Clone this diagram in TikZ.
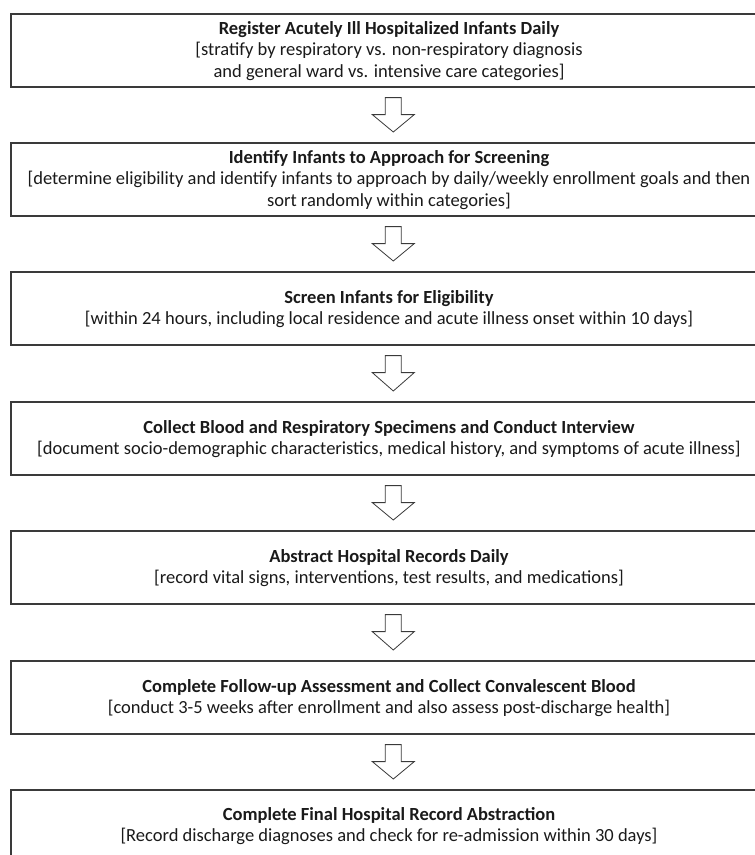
\documentclass[tikz,border=0pt]{standalone}
\usepackage{fontspec}
\setmainfont{Carlito}
\usetikzlibrary{calc}
\definecolor{linegray}{HTML}{3A3A3A}
\definecolor{textgray}{HTML}{1A1A1A}
\tikzset{
  stagebox/.style={draw=linegray, line width=1.6pt, fill=white, rectangle,
    minimum width=765pt, minimum height=73pt, inner sep=0pt, anchor=north west},
  stagetext/.style={align=center, inner sep=0pt, text=textgray,
    font=\fontsize{18.5}{21.5}\selectfont},
  flowshape/.style={draw=linegray, line width=0.8pt, fill=white, line join=miter}
}
\newcommand\flowarrow[2]{%
  \draw[flowshape] let \p1=(#1.south), \p2=(#2.north) in
    (\x1-8pt,\y1-10pt) -- (\x1+8pt,\y1-10pt) -- (\x1+8pt,\y1-27pt)
    -- (\x1+21pt,\y1-27pt) -- (\x1,\y2+10pt) -- (\x1-21pt,\y1-27pt)
    -- (\x1-8pt,\y1-27pt) -- cycle;}
\begin{document}
\begin{tikzpicture}[x=1pt,y=1pt]
\useasboundingbox (0,0) rectangle (755,-855);
\clip (0,0) rectangle (755,-855);
\node[stagebox] (b1) at (10,-13) {};
\node[stagebox] (b2) at (10,-142) {};
\node[stagebox] (b3) at (10,-271) {};
\node[stagebox] (b4) at (10,-401) {};
\node[stagebox] (b5) at (10,-530) {};
\node[stagebox] (b6) at (10,-660) {};
\node[stagebox, minimum height=90pt] (b7) at (10,-789) {};
\node[stagetext] (t1) at (389,-51) {\textbf{Register Acutely Ill Hospitalized Infants Daily}\\{[}stratify by respiratory vs. non-respiratory diagnosis\\and general ward vs. intensive care categories]};
\node[stagetext] (t2) at (389,-180) {\textbf{Identify Infants to Approach for Screening}\\{[}determine eligibility and identify infants to approach by daily/weekly enrollment goals and then\\sort randomly within categories]};
\node[stagetext] (t3) at (389,-309) {\textbf{Screen Infants for Eligibility}\\{[}within 24 hours, including local residence and acute illness onset within 10 days]};
\node[stagetext] (t4) at (389,-439) {\textbf{Collect Blood and Respiratory Specimens and Conduct Interview}\\{[}document socio-demographic characteristics, medical history, and symptoms of acute illness]};
\node[stagetext] (t5) at (389,-568) {\textbf{Abstract Hospital Records Daily}\\{[}record vital signs, interventions, test results, and medications]};
\node[stagetext] (t6) at (389,-698) {\textbf{Complete Follow-up Assessment and Collect Convalescent Blood}\\{[}conduct 3-5 weeks after enrollment and also assess post-discharge health]};
\node[stagetext] (t7) at (389,-826) {\textbf{Complete Final Hospital Record Abstraction}\\{[}Record discharge diagnoses and check for re-admission within 30 days]};
\flowarrow{b1}{b2}
\flowarrow{b2}{b3}
\flowarrow{b3}{b4}
\flowarrow{b4}{b5}
\flowarrow{b5}{b6}
\flowarrow{b6}{b7}
\end{tikzpicture}
\end{document}
